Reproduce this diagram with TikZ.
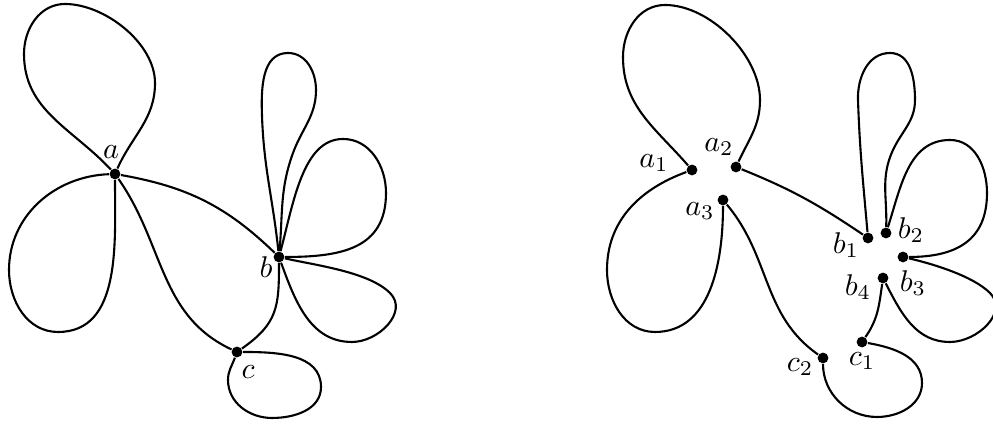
\documentclass[tikz,border=0pt]{standalone}
\tikzset{
  vertex/.style={circle, fill=black, inner sep=0pt, minimum size=3.6pt},
  edge/.style={line width=0.7pt, line join=round},
  lbl/.style={inner sep=0pt},
}
\begin{document}
\begin{tikzpicture}[x=0.3333pt,y=0.3333pt]
  \useasboundingbox (0,0) rectangle (993,426);

  \node[vertex] (a) at (115,252) {};
  \node[vertex] (b) at (279,169) {};
  \node[vertex] (c) at (237,74) {};
  \node[lbl] (la) at (111,274) {$a$};
  \node[lbl] (lb) at (266,159) {$b$};
  \node[lbl] (lc) at (248,54) {$c$};

  \draw[edge] (a) to[out=133,in=270] (24,372) to[out=90,in=180] (65,422) to[out=0,in=90,looseness=.85] (155,343) to[out=270,in=66] (a);
  \draw[edge] (a) to[out=182,in=90] (9,156) to[out=270,in=180] (58,94) to[out=0,in=270] (a);
  \draw[edge] (a) to[out=-10,in=136] (b);
  \draw[edge] (a) to[out=-55,in=155] (c);
  \draw[edge] (b) to[out=270,in=35,looseness=1.2] (c);
  \draw[edge] (c) to[out=0,in=90] (321,39) to[out=270,in=0] (272,8) to[out=180,in=270] (228,46) to[out=90,in=250] (c);
  \draw[edge] (b) to[out=96,in=272] (262,310) to[out=92,in=180] (288,373) to[out=0,in=90] (316,336) to[out=270,in=70] (293,273) to[out=250,in=85] (b);
  \draw[edge] (b) to[out=75,in=180,in looseness=.8] (343,287) to[out=0,in=90] (386,233) to[out=270,in=0,looseness=1.2] (b);
  \draw[edge] (b) to[out=-13,in=135,looseness=.7] (390,133) to[out=-45,in=0,looseness=1.1] (352,84) to[out=180,in=290] (b);

  \node[vertex] (a1) at (692,256) {};
  \node[vertex] (a2) at (736,259) {};
  \node[vertex] (a3) at (723,226) {};
  \node[vertex] (b1) at (868,188) {};
  \node[vertex] (b2) at (886,193) {};
  \node[vertex] (b3) at (903,169) {};
  \node[vertex] (b4) at (883,148) {};
  \node[vertex] (c1) at (862,84) {};
  \node[vertex] (c2) at (823,68) {};
  \node[lbl] (la1) at (654,263) {$a_1$};
  \node[lbl] (la2) at (719,279) {$a_2$};
  \node[lbl] (la3) at (700,215) {$a_3$};
  \node[lbl] (lb1) at (846,181) {$b_1$};
  \node[lbl] (lb2) at (911,196) {$b_2$};
  \node[lbl] (lb3) at (913,143) {$b_3$};
  \node[lbl] (lb4) at (858,139) {$b_4$};
  \node[lbl] (lc1) at (862,65) {$c_1$};
  \node[lbl] (lc2) at (800,59) {$c_2$};

  \draw[edge] (a1) to[out=131,in=270] (623,369) to[out=90,in=180] (665,421) to[out=0,in=90,looseness=.85] (760,326) to[out=270,in=65] (a2);
  \draw[edge] (a1) to[out=200,in=90] (607,156) to[out=270,in=180] (655,94) to[out=0,in=270] (a3);
  \draw[edge] (a2) to[out=-22,in=146] (b1);
  \draw[edge] (a3) to[out=-50,in=145] (c2);
  \draw[edge] (b1) to[out=95,in=272] (858,326) to[out=92,in=180] (890,373) to[out=0,in=90] (915,326) to[out=270,in=65] (893,276) to[out=245,in=88] (b2);
  \draw[edge] (b2) to[out=72,in=180] (950,286) to[out=0,in=90] (987,233) to[out=270,in=0,looseness=1.2] (b3);
  \draw[edge] (b3) to[out=-13,in=135,looseness=.7] (990,133) to[out=-45,in=0,looseness=1.1] (950,84) to[out=180,in=-63] (b4);
  \draw[edge] (b4) to[out=262,in=55] (c1);
  \draw[edge] (c1) to[out=-10,in=90] (922,43) to[out=270,in=0] (877,9) to[out=180,in=270] (c2);
\end{tikzpicture}
\end{document}
